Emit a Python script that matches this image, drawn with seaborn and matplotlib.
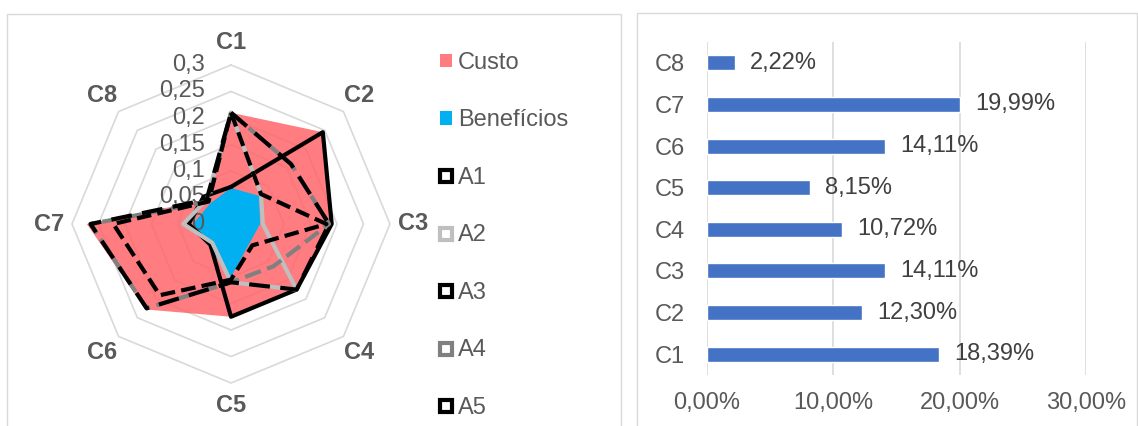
import numpy as np
import pandas as pd
import matplotlib
matplotlib.use("Agg")
import matplotlib.pyplot as plt
import seaborn as sns
from matplotlib.lines import Line2D
from matplotlib.patches import Patch, Rectangle

sns.set_theme(style="white")
plt.rcParams["font.family"] = ["Liberation Sans", "DejaVu Sans"]

# radar data
criteria = ["C1", "C2", "C3", "C4", "C5", "C6", "C7", "C8"]
custo = [0.21, 0.245, 0.19, 0.175, 0.175, 0.228, 0.272, 0.065]
beneficios = [0.068, 0.075, 0.055, 0.05, 0.10, 0.06, 0.072, 0.055]
a1 = [0.07, 0.245, 0.19, 0.175, 0.175, 0.055, 0.08, 0.073]
a2 = [0.21, 0.08, 0.06, 0.175, 0.11, 0.05, 0.09, 0.065]
a3 = [0.21, 0.08, 0.18, 0.057, 0.105, 0.19, 0.222, 0.06]
a4 = [0.21, 0.16, 0.185, 0.113, 0.11, 0.225, 0.265, 0.06]
a5 = [0.21, 0.16, 0.185, 0.175, 0.11, 0.225, 0.265, 0.065]
radar_ticks = [0, 0.05, 0.1, 0.15, 0.2, 0.25, 0.3]
radar_tick_labels = ["0", "0,05", "0,1", "0,15", "0,2", "0,25", "0,3"]

# bar data
weights_pct = [18.39, 12.30, 14.11, 10.72, 8.15, 14.11, 19.99, 2.22]
pct_ticks = [0, 10, 20, 30]

W, H = 1138, 426
grey_txt = "#595959"
fs = 17
fig = plt.figure(figsize=(W / 100, H / 100), dpi=100)

# panel frames
fig.add_artist(Rectangle((7 / W, -0.1), (621 - 7) / W, (H - 14) / H + 0.1,
                         transform=fig.transFigure, fill=False, edgecolor="#D9D9D9", lw=1))
fig.add_artist(Rectangle((637 / W, -0.1), (1137 - 637) / W, (H - 13) / H + 0.1,
                         transform=fig.transFigure, fill=False, edgecolor="#D9D9D9", lw=1))

# ---- radar ----
cx, cy, R = 231, 224, 159
ax = fig.add_axes([(cx - R) / W, (H - cy - R) / H, 2 * R / W, 2 * R / H], projection="polar")
ax.set_theta_offset(np.pi / 2)
ax.set_theta_direction(-1)
ax.set_ylim(0, 0.3)
ax.grid(False)
ax.spines["polar"].set_visible(False)
ax.set_xticks([])
ax.set_yticks([])
ax.set_facecolor("none")

ang = np.linspace(0, 2 * np.pi, len(criteria), endpoint=False)
ang_c = np.append(ang, ang[0])

def closed(v):
    return np.append(v, v[0])

for r in radar_ticks[1:]:
    ax.plot(ang_c, [r] * len(ang_c), color="#D9D9D9", lw=1.2, zorder=1, clip_on=False)

ax.fill(ang_c, closed(custo), color=(1.0, 0.396, 0.416), alpha=0.85, lw=0, zorder=2)
ax.fill(ang_c, closed(beneficios), color="#00B0F0", lw=0, zorder=3)

ax.plot(ang_c, closed(a1), color="black", lw=3, zorder=4, clip_on=False)
ax.plot(ang_c, closed(a2), color="#BFBFBF", lw=3, zorder=5, clip_on=False)
ax.plot(ang_c, closed(a4), color="#808080", lw=3, dashes=(4, 1.6), zorder=6, clip_on=False)
ax.plot(ang_c, closed(a5), color="black", lw=3, dashes=(5, 2.5), zorder=7, clip_on=False)
ax.plot(ang_c, closed(a3), color="black", lw=3, dashes=(3.5, 1.5), zorder=8, clip_on=False)

for a, lab in zip(ang, criteria):
    ax.text(a, 0.343, lab, ha="center", va="center", fontsize=17,
            fontweight="bold", color=grey_txt, clip_on=False)

for v, lab in zip(radar_ticks, radar_tick_labels):
    ax.annotate(lab, xy=(0, v), xytext=(-19, 0), textcoords="offset points",
                ha="right", va="center", fontsize=fs, color=grey_txt, zorder=3.5)

handles = [
    Patch(facecolor="#FF7C80", edgecolor="none"),
    Patch(facecolor="#00B0F0", edgecolor="none"),
    Line2D([], [], marker="s", ms=9, mfc="white", mec="black", mew=3, ls="none"),
    Line2D([], [], marker="s", ms=9, mfc="white", mec="#BFBFBF", mew=3, ls="none"),
    Line2D([], [], marker="s", ms=9, mfc="white", mec="black", mew=3, ls="none"),
    Line2D([], [], marker="s", ms=9, mfc="white", mec="#808080", mew=3, ls="none"),
    Line2D([], [], marker="s", ms=9, mfc="white", mec="black", mew=3, ls="none"),
]
labels = ["Custo", "Benefícios", "A1", "A2", "A3", "A4", "A5"]
fig.legend(handles, labels, loc="upper left", bbox_to_anchor=(440 / W, (H - 52) / H),
           frameon=False, fontsize=fs, labelcolor=grey_txt, labelspacing=1.5,
           handlelength=0.5, handleheight=0.5, handletextpad=0.25,
           borderpad=0, borderaxespad=0)

# ---- bars ----
axb = fig.add_axes([707 / W, 51 / H, 379 / W, 333 / H])
df = pd.DataFrame({"criterio": criteria, "peso": weights_pct})
sns.barplot(data=df, x="peso", y="criterio", order=criteria[::-1], color="#4472C4",
            saturation=1, width=0.36, ax=axb)
axb.set_xlim(0, 30)
axb.set_xticks(pct_ticks)
axb.set_xticklabels([f"{t:.2f}%".replace(".", ",") for t in pct_ticks])
axb.set_xlabel("")
axb.set_ylabel("")
axb.grid(axis="x", color="#D9D9D9", lw=1.2)
axb.grid(axis="y", visible=False)
axb.set_axisbelow(True)
for s in axb.spines.values():
    s.set_visible(False)
axb.tick_params(axis="x", length=0, pad=12, labelsize=fs, labelcolor=grey_txt)
axb.tick_params(axis="y", length=0, pad=16, labelsize=fs, labelcolor=grey_txt)
cont = axb.containers[0]
axb.bar_label(cont, labels=[f"{v:.2f}%".replace(".", ",") for v in weights_pct[::-1]],
              padding=11, fontsize=fs, color="#404040")

fig.savefig("out.png", dpi=100)
